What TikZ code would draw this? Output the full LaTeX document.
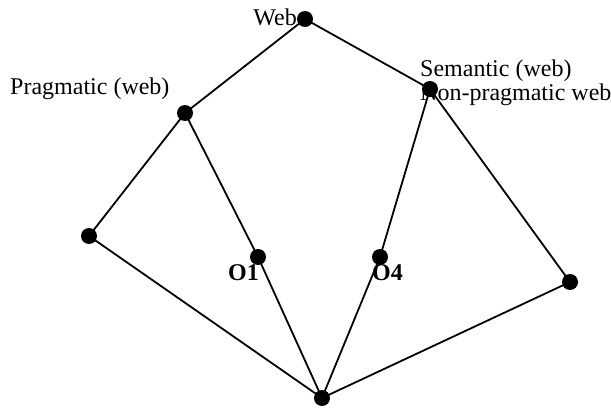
\documentclass[tikz,border=0pt]{standalone}
\usepackage{fontspec}
\setmainfont{Liberation Serif}
\begin{document}
\begin{tikzpicture}[x=1pt,y=-1pt,
  dot/.style={circle,fill=black,inner sep=0pt,minimum size=16pt},
  edge/.style={line width=1.8pt},
  lbl/.style={font=\fontsize{24}{24}\selectfont,inner sep=0pt}]
\useasboundingbox (0,0) rectangle (611,412);
\node[dot] (web) at (305,19) {};
\node[dot] (prag) at (185,113) {};
\node[dot] (sem) at (430,89) {};
\node[dot] (left) at (89,236) {};
\node[dot] (o1) at (258,257) {};
\node[dot] (o4) at (380,257) {};
\node[dot] (right) at (570,282) {};
\node[dot] (bot) at (322,398) {};
\foreach \a/\b in {web/prag,web/sem,prag/left,prag/o1,sem/o4,sem/right,left/bot,o1/bot,o4/bot,right/bot}
  \draw[edge] (\a.center) -- (\b.center);
\node[lbl,anchor=base east] (tweb) at (297,26) {Web};
\node[lbl,anchor=base west] (tprag) at (10,95) {Pragmatic (web)};
\node[lbl,anchor=base west] (tsem) at (420,77) {Semantic (web)};
\node[lbl,anchor=base west] (tnon) at (420,100) {Non-pragmatic web};
\node[lbl,anchor=base west,font=\fontsize{24}{24}\selectfont\bfseries] (to1) at (228,280) {O1};
\node[lbl,anchor=base west,font=\fontsize{24}{24}\selectfont\bfseries] (to4) at (372,280) {O4};
\end{tikzpicture}
\end{document}
